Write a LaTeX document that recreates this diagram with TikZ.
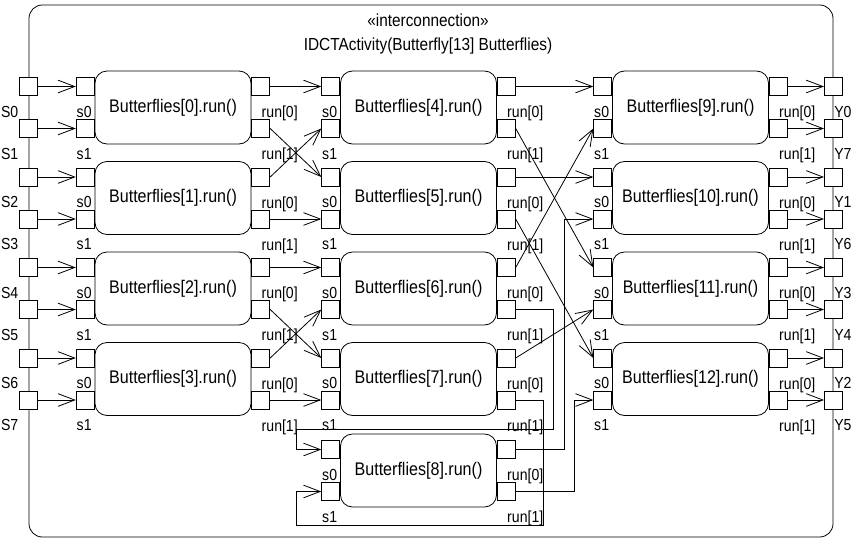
\documentclass[tikz,border=0pt]{standalone}
\usepackage{fontspec}
\setmainfont[FakeStretch=0.88]{Liberation Sans}
\usetikzlibrary{arrows.meta,positioning}

\begin{document}
\begin{tikzpicture}[
			x=0.75pt, y=-0.75pt,
			activitybox/.style={
				draw,
				rounded corners=10pt,
				line width=0.6pt,
				minimum width=603pt,
				minimum height=399pt,
				inner sep=0pt
			},
			bflybox/.style={
				draw,
				rounded corners=9pt,
				line width=0.6pt,
				fill=white,
				minimum width=117pt,
				minimum height=54.75pt,
				inner sep=0pt,
				font=\fontsize{13.7pt}{16pt}\selectfont
			},
			portbox/.style={
				draw,
				line width=0.6pt,
				fill=white,
				minimum size=13.5pt,
				inner sep=0pt
			},
			portlabel/.style={
				inner xsep=0.5pt,
				inner ysep=3.5pt,
				yshift=-4pt,
				font=\fontsize{12pt}{14pt}\selectfont
			},
			flow/.style={
				-{Straight Barb[length=12.5pt,width=9.5pt]},
				line width=0.6pt
			}
			]
			
			\useasboundingbox (0,0) rectangle (853,543);
			
			\node[activitybox] (activity) at (431,271) {};
			
			\node[align=center,anchor=north,
			font=\fontsize{13.1pt}{18pt}\selectfont] (title) at (428,9) {
				«interconnection»\\
				IDCTActivity(Butterfly[13] Butterflies)
			};
			
			% butterflies with their ports
			\foreach \i/\x/\y in {0/173/107.5, 1/173/198, 2/173/288.5, 3/173/379,
				4/418.5/107.5, 5/418.5/198, 6/418.5/288.5, 7/418.5/379, 8/418.5/470.5,
				9/690.5/107.5, 10/690.5/198, 11/690.5/288.5, 12/690.5/379} {
				\node[bflybox] (b\i) at (\x,\y) {Butterflies[\i].run()};
				\node[portbox,anchor=east] (b\i-s0) at ([yshift=15.75pt]b\i.west) {};
				\node[portbox,anchor=east] (b\i-s1) at ([yshift=-15.75pt]b\i.west) {};
				\node[portbox,anchor=west] (b\i-r0) at ([yshift=15.75pt]b\i.east) {};
				\node[portbox,anchor=west] (b\i-r1) at ([yshift=-15.75pt]b\i.east) {};
				\node[portlabel,anchor=north west] (b\i-s0-lbl) at (b\i-s0.south west) {s0};
				\node[portlabel,anchor=north west] (b\i-s1-lbl) at (b\i-s1.south west) {s1};
				\node[portlabel,anchor=north west] (b\i-r0-lbl) at (b\i-r0.south) {run[0]};
				\node[portlabel,anchor=north west] (b\i-r1-lbl) at (b\i-r1.south) {run[1]};
			}
			
			% inputs
			\foreach \j/\b/\p in {0/0/s0, 1/0/s1, 2/1/s0, 3/1/s1,
				4/2/s0, 5/2/s1, 6/3/s0, 7/3/s1} {
				\node[portbox] (S\j) at (b\b-\p -| activity.west) {};
				\node[portlabel,anchor=north east] (S\j-lbl) at (S\j.south west) {S\j};
				\draw[flow] (S\j.east) -- (b\b-\p.west);
			}
			
			% outputs
			\foreach \k/\b/\p in {0/9/r0, 7/9/r1, 1/10/r0, 6/10/r1,
				3/11/r0, 4/11/r1, 2/12/r0, 5/12/r1} {
				\node[portbox] (Y\k) at (b\b-\p -| activity.east) {};
				\node[portlabel,anchor=north west] (Y\k-lbl) at (Y\k.south) {Y\k};
				\draw[flow] (b\b-\p.east) -- (Y\k.west);
			}
			
			% straight connectors between stages
			\foreach \a/\b in {b0-r0/b4-s0, b0-r1/b5-s0, b1-r0/b4-s1, b1-r1/b5-s1,
				b2-r0/b6-s0, b2-r1/b7-s0, b3-r0/b6-s1, b3-r1/b7-s1,
				b4-r0/b9-s0, b4-r1/b11-s0, b5-r0/b10-s0, b5-r1/b12-s0,
				b6-r0/b9-s1, b7-r0/b11-s1}
			\draw[flow] (\a.east) -- (\b.west);
			
			% routed connectors
			\coordinate (busL) at (296,0);
			\coordinate (busA) at (543,0);
			\coordinate (busB) at (553,0);
			\coordinate (busC) at (564,0);
			\coordinate (busD) at (574,0);
			\coordinate (loopTop) at (0,429);
			\coordinate (loopBot) at (0,525);
			
			\draw[flow] (b6-r1.east) -- (busB |- b6-r1.east) -- (busB |- loopTop)
			-- (busL |- loopTop) -- (busL |- b8-s0.west) -- (b8-s0.west);
			\draw[flow] (b7-r1.east) -- (busA |- b7-r1.east) -- (busA |- loopBot)
			-- (busL |- loopBot) -- (busL |- b8-s1.west) -- (b8-s1.west);
			\draw[flow] (b8-r0.east) -- (busC |- b8-r0.east) -- (busC |- b10-s1.west)
			-- (b10-s1.west);
			\draw[flow] (b8-r1.east) -- (busD |- b8-r1.east) -- (busD |- b12-s1.west)
			-- (b12-s1.west);
			
		\end{tikzpicture}
\end{document}
